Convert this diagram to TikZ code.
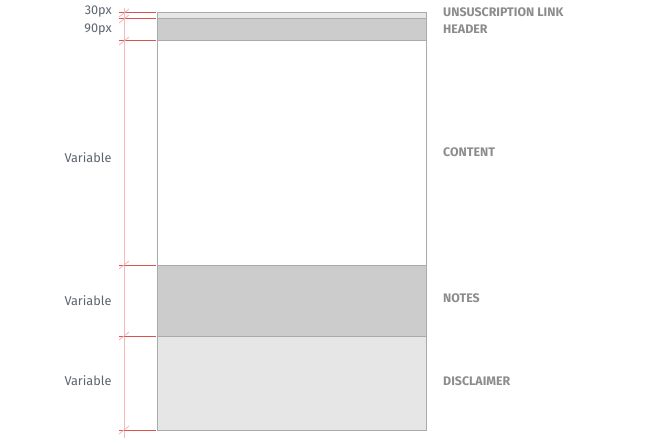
\documentclass[tikz,border=0pt]{standalone}
\usepackage{fontspec}
\setmainfont{Fira Sans}
\begin{document}
\begin{tikzpicture}[x=1pt,y=-1pt,
  blk/.style={draw=boxgray,line width=1pt},
  tick/.style={draw=tickred,line width=1pt},
  slash/.style={draw=slashpink,line width=0.8pt},
  leftlbl/.style={text=lblgray,font=\fontsize{12.7}{14}\selectfont,inner sep=0pt},
  rightlbl/.style={text=rgray,font=\bfseries\fontsize{12.4}{14}\selectfont,anchor=west,inner sep=0pt}]
\definecolor{boxgray}{HTML}{AAAAAA}
\definecolor{tickred}{HTML}{D9534F}
\definecolor{slashpink}{HTML}{F5B7B7}
\definecolor{lblgray}{HTML}{5A6470}
\definecolor{rgray}{HTML}{8C8C8C}
\definecolor{darkfill}{HTML}{CCCCCC}
\definecolor{lightfill}{HTML}{E6E6E6}
\useasboundingbox (0,0) rectangle (650,444);
% blocks
\path[blk,fill=lightfill] (157,13) rectangle (426,19);
\path[blk,fill=darkfill] (157,19) rectangle (426,41);
\path[blk,fill=white] (157,41) rectangle (426,265);
\path[blk,fill=darkfill] (157,265) rectangle (426,336);
\path[blk,fill=lightfill] (157,336) rectangle (426,430);
% dimension line
\coordinate (vtop) at (124,8);
\coordinate (vbot) at (124,438);
\draw[draw=slashpink,line width=1pt] (vtop) -- (vbot);
\foreach \yy in {13,19,41,265,336,430}{
  \coordinate (t\yy) at (119,\yy);
  \coordinate (e\yy) at (156,\yy);
  \draw[tick] (t\yy) -- (e\yy);
  \draw[slash] (119,\yy+4) -- (129,\yy-4);
}
% left labels
\node[leftlbl,anchor=east] (l30) at (112,12) {30px};
\node[leftlbl,anchor=east] (l90) at (112,30) {90px};
\node[leftlbl] (v1) at (88,158) {Variable};
\node[leftlbl] (v2) at (88,301) {Variable};
\node[leftlbl] (v3) at (88,381) {Variable};
% right labels
\node[rightlbl] (r1) at (443,12) {UNSUSCRIPTION LINK};
\node[rightlbl] (r2) at (443,29) {HEADER};
\node[rightlbl] (r3) at (443,152) {CONTENT};
\node[rightlbl] (r4) at (443,298) {NOTES};
\node[rightlbl] (r5) at (443,381) {DISCLAIMER};
\end{tikzpicture}
\end{document}
